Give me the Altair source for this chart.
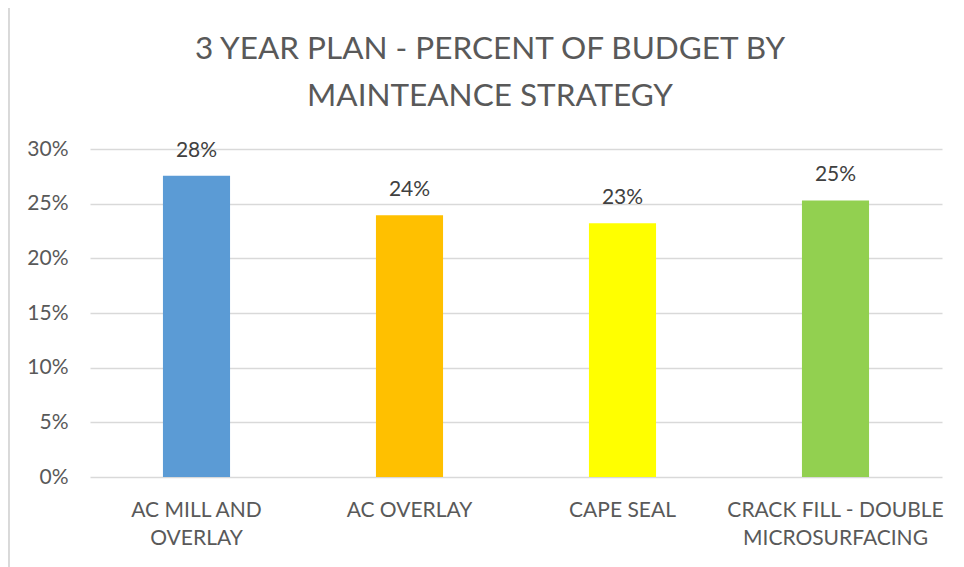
import altair as alt
import pandas as pd
import json

# ---- data ----
categories = ["AC MILL AND OVERLAY", "AC OVERLAY", "CAPE SEAL", "CRACK FILL - DOUBLE MICROSURFACING"]
label_lines = [["AC MILL AND", "OVERLAY"], ["AC OVERLAY"], ["CAPE SEAL"], ["CRACK FILL - DOUBLE", "MICROSURFACING"]]
shares = [0.2755, 0.2395, 0.2320, 0.2530]
colors = ["#5B9BD5", "#FFC000", "#FFFF00", "#92D050"]
y_ticks = [0, 0.05, 0.10, 0.15, 0.20, 0.25, 0.30]
title_lines = ["3 YEAR PLAN - PERCENT OF BUDGET BY", "MAINTEANCE STRATEGY"]

df = pd.DataFrame({"strategy": categories, "share": shares})

FONT = "Lato, 'Open Sans', sans-serif"

label_map = {c: l for c, l in zip(categories, label_lines)}
label_expr = "{}[datum.label]".format(json.dumps(label_map))

x_enc = alt.X(
    "strategy:N",
    sort=categories,
    scale=alt.Scale(paddingInner=0.685, paddingOuter=0.3425),
    axis=alt.Axis(
        title=None,
        labelExpr=label_expr,
        labelAngle=0,
        labelFont=FONT,
        labelFontSize=21,
        labelColor="#595959",
        labelLineHeight=28,
        labelPadding=22,
        labelBaseline="top",
        domain=False,
        ticks=False,
        grid=False,
        labelLimit=400,
    ),
)

y_enc = alt.Y(
    "share:Q",
    scale=alt.Scale(domain=[0, 0.30], nice=False),
    axis=alt.Axis(
        title=None,
        values=y_ticks,
        format=".0%",
        labelFont=FONT,
        labelFontSize=21,
        labelColor="#595959",
        labelPadding=22,
        domain=False,
        ticks=False,
        grid=True,
        gridColor="#D9D9D9",
        gridWidth=1.3,
    ),
)

base = alt.Chart(df)

bars = base.mark_bar().encode(
    x=x_enc,
    y=y_enc,
    color=alt.Color("strategy:N", sort=categories,
                    scale=alt.Scale(domain=categories, range=colors), legend=None),
)

texts = base.mark_text(
    font=FONT, fontSize=21, color="#404040", baseline="middle", dy=-25
).encode(
    x=alt.X("strategy:N", sort=categories),
    y=alt.Y("share:Q"),
    text=alt.Text("share:Q", format=".0%"),
)

border = base.mark_rule(color="#D9D9D9", strokeWidth=1.5).encode(
    x=alt.value(-81.2),
    y=alt.value(-141),
    y2=alt.value(440),
)

chart = alt.layer(bars, texts, border).properties(
    width=852,
    height=328,
    autosize=alt.AutoSizeParams(type="none"),
    padding={"left": 82, "top": 141, "right": 14, "bottom": 92},
    title=alt.TitleParams(
        text=title_lines,
        font=FONT,
        fontSize=31.5,
        fontWeight="normal",
        color="#595959",
        lineHeight=47,
        anchor="middle",
        dx=-26,
        offset=-105,
    ),
).configure_view(strokeWidth=0)

chart.save("out.html", embed_options={"renderer": "svg", "actions": False})
